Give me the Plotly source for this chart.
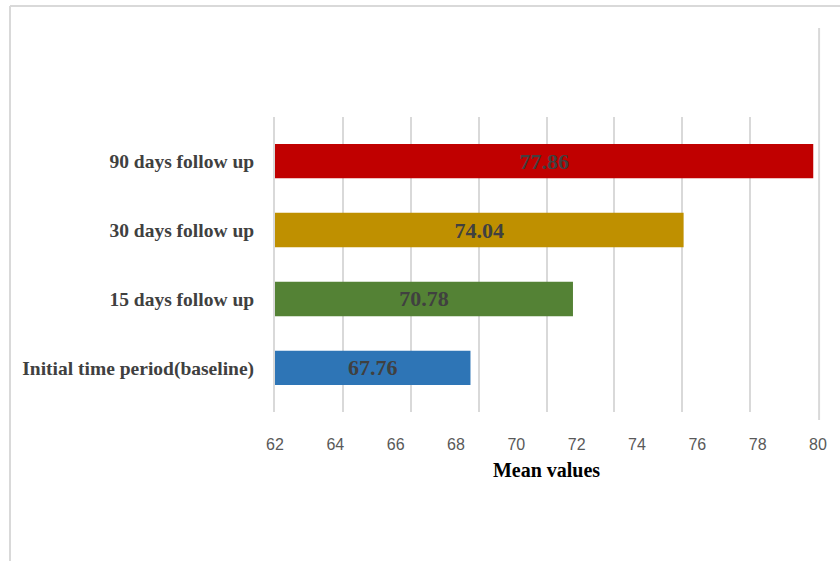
import plotly.graph_objects as go

# ---- data ----
categories = ["Initial time period(baseline)", "15 days follow up", "30 days follow up", "90 days follow up"]
mean_values = [67.76, 70.78, 74.04, 77.86]
value_labels = ["67.76", "70.78", "74.04", "77.86"]
bar_colors = ["#2E75B6", "#548235", "#BF9000", "#C00000"]
tick_labels = [62, 64, 66, 68, 70, 72, 74, 76, 78, 80]
axis_base = 62

GRID = "#D9D9D9"
SERIF = "Liberation Serif, Times New Roman, serif"
SANS = "Liberation Sans, Arial, sans-serif"

fig = go.Figure()
fig.add_trace(go.Bar(
    y=categories, x=[v - axis_base for v in mean_values], base=axis_base, orientation="h",
    marker=dict(color=bar_colors, line=dict(width=0)),
    text=value_labels, textposition="inside", insidetextanchor="middle",
    textangle=0, constraintext="none",
    textfont=dict(family=SERIF, size=22, color="#404040", weight="bold"),
    hoverinfo="skip", showlegend=False,
))
# invisible trace so the labelled (secondary) axis is drawn
fig.add_trace(go.Scatter(
    x=[tick_labels[0]], y=[categories[0]], xaxis="x2", mode="markers",
    marker=dict(opacity=0), hoverinfo="skip", showlegend=False,
))

fig.update_layout(
    width=840, height=561,
    margin=dict(l=275, r=22, t=117, b=149),
    paper_bgcolor="white", plot_bgcolor="white",
    bargap=0.5,
    xaxis=dict(
        range=[62, 78], dtick=2, showgrid=True, gridcolor=GRID, gridwidth=2,
        showticklabels=False, ticks="", zeroline=False, showline=False,
    ),
    xaxis2=dict(
        overlaying="x", anchor="y", side="bottom",
        range=[tick_labels[0], tick_labels[-1]], tickvals=tick_labels,
        showgrid=False, zeroline=False, showline=False, ticks="",
        tickfont=dict(family=SANS, size=16, color="#595959"),
        ticklabelstandoff=21,
        title=dict(text="Mean values", standoff=10,
                   font=dict(family=SERIF, size=20, color="black", weight="bold")),
    ),
    yaxis=dict(
        range=[-0.64, 3.64], showgrid=False, zeroline=False,
        showline=True, linecolor=GRID, linewidth=2,
        ticks="", ticklabelstandoff=15,
        tickfont=dict(family=SERIF, size=19.5, color="#404040", weight="bold"),
    ),
)

# outer frame (top and left edges) and right edge line
fig.add_shape(type="line", xref="paper", yref="paper",
              x0=-0.488, x1=1.05, y0=1.376, y1=1.376, line=dict(color=GRID, width=2))
fig.add_shape(type="line", xref="paper", yref="paper",
              x0=-0.488, x1=-0.488, y0=1.376, y1=-0.52, line=dict(color=GRID, width=2))
fig.add_shape(type="line", xref="paper", yref="paper",
              x0=1.002, x1=1.002, y0=1.302, y1=-0.027, line=dict(color=GRID, width=2))

fig.write_html("out.html")
